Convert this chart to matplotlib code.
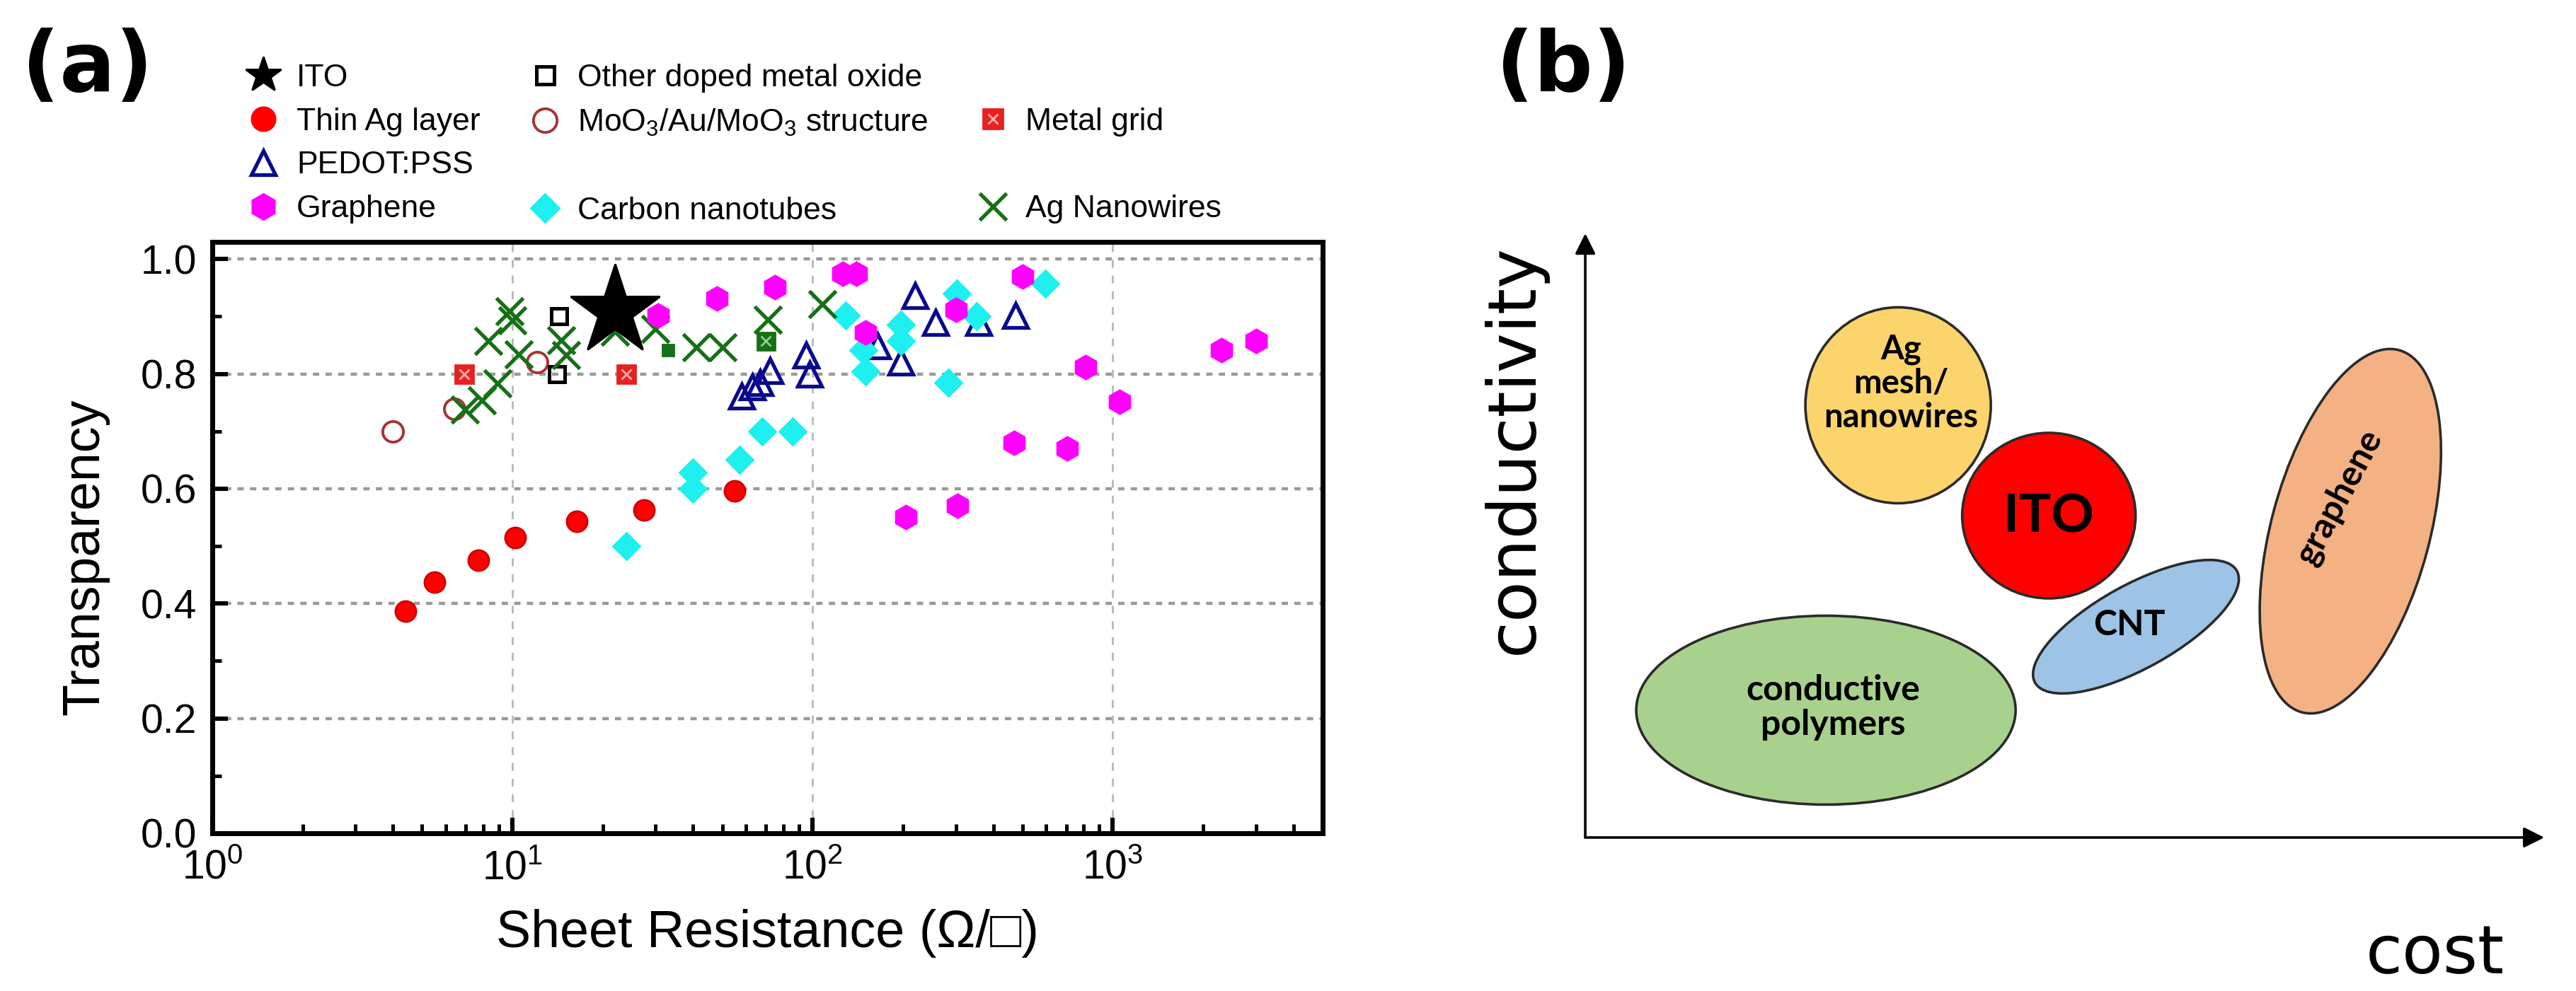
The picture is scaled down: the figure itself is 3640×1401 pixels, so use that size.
import numpy as np
import matplotlib
matplotlib.use('Agg')
import matplotlib.pyplot as plt
from matplotlib.lines import Line2D
from matplotlib.patches import Ellipse
from matplotlib.ticker import MultipleLocator, LogLocator, NullFormatter

plt.rcParams['font.family'] = ['Liberation Sans', 'DejaVu Sans']
plt.rcParams['mathtext.default'] = 'regular'

# ---------------- panel (a): sheet resistance (ohm/sq) vs transparency
ito_r = [22]
ito_t = [0.909]

ag_layer_r = [4.4, 5.5, 7.7, 10.2, 16.4, 27.5, 55]
ag_layer_t = [0.387, 0.437, 0.476, 0.515, 0.543, 0.563, 0.596]

oxide_r = [14.3, 14.1]
oxide_t = [0.90, 0.80]

moo3_r = [4.0, 6.4, 12.1]
moo3_t = [0.70, 0.739, 0.82]

grid_r = [6.9, 24.0]
grid_t = [0.80, 0.80]

pedot_r = [58, 63, 67, 72, 95, 98, 165, 197, 220, 257, 358, 475]
pedot_t = [0.761, 0.778, 0.785, 0.806, 0.833, 0.80, 0.849, 0.821, 0.936, 0.889, 0.889, 0.902]

graphene_r = [30.6, 48, 75, 126, 140, 150, 205, 301, 304, 469, 501, 707, 813, 1054, 2306, 3008]
graphene_t = [0.902, 0.932, 0.951, 0.974, 0.974, 0.872, 0.551, 0.912, 0.571, 0.68,
              0.969, 0.67, 0.812, 0.751, 0.841, 0.857]

cnt_r = [24, 40, 40, 57, 68, 86, 129, 148, 150, 197, 197, 284, 303, 352, 597]
cnt_t = [0.50, 0.60, 0.628, 0.65, 0.70, 0.70, 0.902, 0.841, 0.804, 0.858, 0.886,
         0.785, 0.94, 0.901, 0.957]

agnw_r = [6.95, 7.9, 8.9, 8.3, 9.8, 10.0, 10.5, 14.5, 15.1, 22, 30, 41, 50, 71, 108]
agnw_t = [0.738, 0.754, 0.784, 0.858, 0.909, 0.893, 0.834, 0.859, 0.833, 0.874,
          0.878, 0.846, 0.847, 0.895, 0.921]

# small green squares without a legend entry
green_sq_r = [33, 70]
green_sq_t = [0.841, 0.857]

# ---------------- panel (b): qualitative cost / conductivity map
bubble_labels = ['conductive\npolymers', 'Ag\nmesh/\nnanowires', 'ITO', 'CNT', 'graphene']
bubble_cost = [3.40, 4.42, 6.55, 7.78, 10.81]
bubble_cond = [1.80, 6.11, 4.55, 2.98, 4.33]
bubble_w = [5.36, 2.62, 2.45, 3.26, 5.30]
bubble_h = [2.67, 2.77, 2.34, 1.18, 2.24]
bubble_angle = [0, 0, 0, 29, 75]
bubble_colors = ['#a9d18e', '#fcd46c', '#ff0000', '#9dc3e6', '#f4b183']
label_cost = [3.50, 4.46, 6.55, 7.69, 10.65]
label_cond = [1.84, 6.42, 4.53, 3.00, 4.82]
label_rot = [0, 0, 0, 0, 62]
label_size = [18, 17, 27, 18, 18]

fig = plt.figure(figsize=(18.2, 7.005), dpi=200)

# ---- (a)
ax = fig.add_axes([0.0824, 0.1592, 0.4310, 0.5967])
ax.set_xscale('log')
ax.set_xlim(1, 5000)
ax.set_ylim(0, 1.03)
ax.set_axisbelow(True)

ax.plot(ag_layer_r, ag_layer_t, 'o', color='#ff0000', mec='#d00000', ms=10.5, zorder=3)
ax.plot(moo3_r, moo3_t, 'o', mfc='none', mec='#a83232', mew=1.4, ms=10.5, zorder=3)
ax.plot(oxide_r, oxide_t, 's', mfc='none', mec='k', mew=1.8, ms=8, zorder=3)
ax.plot(grid_r, grid_t, 's', color='#e8201f', ms=9.5, zorder=3)
ax.plot(grid_r, grid_t, 'x', color='#ffb0b0', ms=5, mew=1.0, zorder=3)
ax.plot(pedot_r, pedot_t, '^', mfc='none', mec='#0a0a8c', mew=1.9, ms=12, zorder=3)
ax.plot(cnt_r, cnt_t, 'D', color='#1ef0f0', ms=9.5, zorder=4)
ax.plot(agnw_r, agnw_t, 'x', color='#167016', ms=14, mew=1.9, zorder=5)
ax.plot(green_sq_r[:1], green_sq_t[:1], 's', color='#167016', ms=6, zorder=5)
ax.plot(green_sq_r[1:], green_sq_t[1:], 's', color='#167016', ms=9, zorder=5)
ax.plot(green_sq_r[1:], green_sq_t[1:], 'x', color='#8fd08f', ms=5, mew=1.0, zorder=5)
ax.plot(graphene_r, graphene_t, 'h', color='#ff00ff', ms=12, zorder=6)
ax.plot(ito_r, ito_t, '*', color='k', ms=48, zorder=7)

ax.grid(True, axis='y', which='major', linestyle=(0, (2, 2)), color='0.6', lw=1.6)
ax.grid(True, axis='x', which='major', linestyle=(0, (4, 4)), color='0.72', lw=1.0)

ax.xaxis.set_major_locator(LogLocator(base=10, numticks=10))
ax.xaxis.set_minor_locator(LogLocator(base=10, subs=np.arange(2, 10), numticks=20))
ax.xaxis.set_minor_formatter(NullFormatter())
ax.yaxis.set_major_locator(MultipleLocator(0.2))
ax.yaxis.set_minor_locator(MultipleLocator(0.1))
ax.yaxis.set_major_formatter(plt.FormatStrFormatter('%.1f'))
ax.tick_params(which='major', direction='in', length=8, width=2.2, labelsize=20.5, pad=8)
ax.tick_params(which='minor', direction='in', length=4.8, width=1.8)
ax.tick_params(top=False, right=False)
for side in ['top', 'bottom', 'left', 'right']:
    ax.spines[side].set_linewidth(2.5)

ax.set_xlabel('Sheet Resistance (\u03a9/\u25a1)', fontsize=26.5)
ax.set_ylabel('Transparency', fontsize=26.5)
ax.xaxis.set_label_coords(0.5, -0.128)
ax.yaxis.set_label_coords(-0.093, 0.467)

blank = Line2D([], [], ls='none')
h_ito = Line2D([], [], ls='none', marker='*', color='k', ms=19)
h_ag = Line2D([], [], ls='none', marker='o', color='#ff0000', ms=12)
h_pedot = Line2D([], [], ls='none', marker='^', mfc='none', mec='#0a0a8c', mew=1.9, ms=12)
h_gr = Line2D([], [], ls='none', marker='h', color='#ff00ff', ms=13)
h_oxide = Line2D([], [], ls='none', marker='s', mfc='none', mec='k', mew=1.8, ms=9)
h_moo3 = Line2D([], [], ls='none', marker='o', mfc='none', mec='#a83232', mew=1.4, ms=12)
h_grid = (Line2D([], [], ls='none', marker='s', color='#e8201f', ms=10),
          Line2D([], [], ls='none', marker='x', color='#ffb0b0', ms=5, mew=1.0))
h_cnt = Line2D([], [], ls='none', marker='D', color='#1ef0f0', ms=10)
h_agnw = Line2D([], [], ls='none', marker='x', color='#167016', ms=14, mew=1.9)

handles = [h_ito, h_ag, h_pedot, h_gr,
           h_oxide, h_moo3, blank, h_cnt,
           blank, h_grid, blank, h_agnw]
labels = ['ITO', 'Thin Ag layer', 'PEDOT:PSS', 'Graphene',
          'Other doped metal oxide', 'MoO$_3$/Au/MoO$_3$ structure', ' ', 'Carbon nanotubes',
          ' ', 'Metal grid', ' ', 'Ag Nanowires']
fig.legend(handles, labels, ncol=3, loc='upper left', bbox_to_anchor=(0.0962, 0.936),
           frameon=False, fontsize=16, handlelength=1.0, handletextpad=0.55,
           columnspacing=1.55, labelspacing=0.47, borderpad=0, borderaxespad=0)

fig.text(0.034, 0.931, '(a)', fontsize=42, fontweight='bold', family='DejaVu Sans',
         ha='center', va='center')
fig.text(0.607, 0.931, '(b)', fontsize=42, fontweight='bold', family='DejaVu Sans',
         ha='center', va='center')

# ---- (b)
axb = fig.add_axes([0.6154, 0.1549, 0.3723, 0.6096])
axb.set_xlim(0, 13.55)
axb.set_ylim(0, 8.54)
axb.axis('off')

for i in range(len(bubble_labels)):
    e = Ellipse((bubble_cost[i], bubble_cond[i]), bubble_w[i], bubble_h[i],
                angle=bubble_angle[i], facecolor=bubble_colors[i], edgecolor='#2a2a2a',
                lw=1.3, zorder=2 + i)
    axb.add_patch(e)
    axb.text(label_cost[i], label_cond[i], bubble_labels[i], fontsize=label_size[i],
             fontweight='bold', family=['Lato', 'DejaVu Sans'], ha='center', va='center',
             rotation=label_rot[i], linespacing=1.1, zorder=10)

arrow = dict(arrowstyle='-|>', lw=1.3, color='k', mutation_scale=22, shrinkA=0, shrinkB=0)
axb.annotate('', xy=(0, 8.54), xytext=(0, 0), arrowprops=arrow, annotation_clip=False)
axb.annotate('', xy=(13.55, 0), xytext=(0, 0), arrowprops=arrow, annotation_clip=False)
axb.text(-1.0, 5.49, 'conductivity', rotation=90, fontsize=34, family='DejaVu Sans',
         ha='center', va='center')
axb.text(12.01, -1.66, 'cost', fontsize=34, family='DejaVu Sans', ha='center', va='center')

fig.savefig('out.png', dpi=200, facecolor='white')
